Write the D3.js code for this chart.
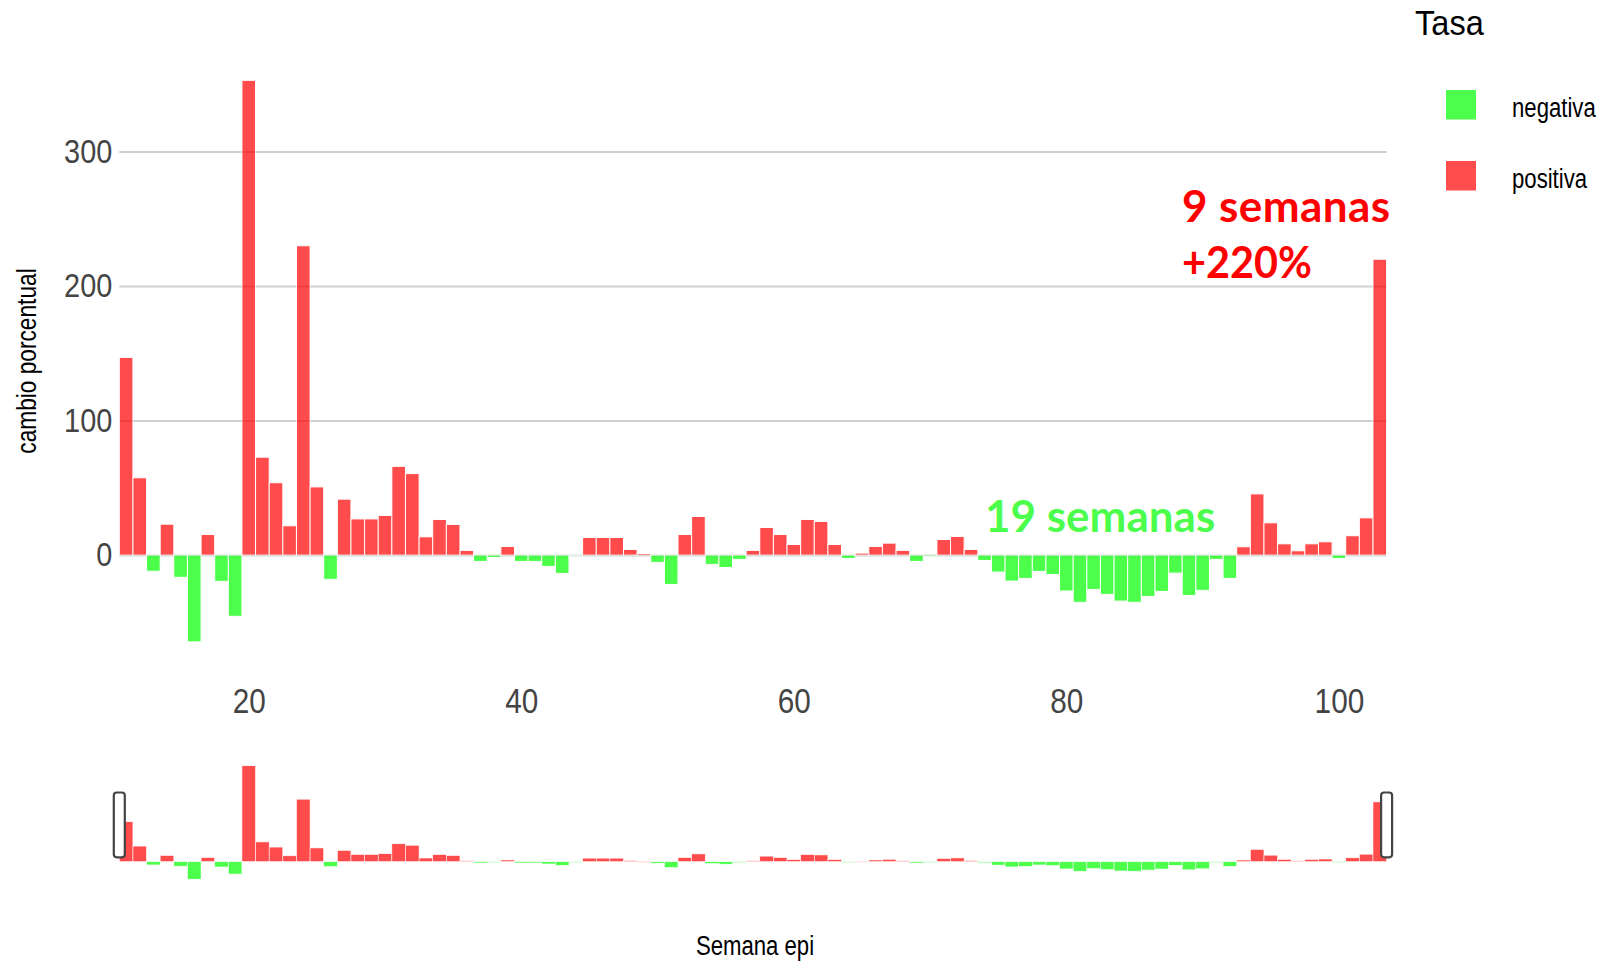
<!DOCTYPE html>
<html>
<head>
<meta charset="utf-8">
<script src="https://cdn.jsdelivr.net/npm/d3@7"></script>
<style>
  body { margin: 0; background: #fff; }
  .narrow { font-family: "Liberation Sans Narrow", "Arial Narrow", "Liberation Sans", sans-serif; }
</style>
</head>
<body>
<svg width="1606" height="963"></svg>
<script>
// weekly percentage change, first bar is epi week 11
var firstWeek = 11;
var cambio = [
  147, 57.5, -12, 23, -16.5, -64.5, 15.3, -19.5, -45.5, 353,
  72.8, 53.8, 21.8, 230, 50.7, -18, 41.6, 26.9, 26.9, 29.5,
  66, 60.6, 13.6, 26.5, 22.8, 3.5, -4.7, -1.7, 6.4, -4.7,
  -4.7, -8.4, -13.6, -0.8, 13.1, 13.1, 13.1, 4.2, 1.2, -5.4,
  -21.8, 15.3, 28.7, -6.9, -9.2, -3.2, 3.5, 20.5, 15.3, 7.9,
  26.5, 25, 7.9, -2.5, 1.5, 6.4, 8.9, 3.5, -4.7, -1,
  11.6, 13.9, 4.2, -4, -12.6, -19.3, -17.3, -12.1, -14.4, -26.7,
  -35.1, -25.5, -29.2, -34.2, -35.1, -30.7, -27, -13.4, -30, -26.2,
  -3.2, -17.3, 6.2, 45.5, 24, 8.4, 3.2, 8.4, 9.9, -2.5,
  14.4, 27.7, 220
];
var xTicks = [20, 40, 60, 80, 100];
var yTicks = [0, 100, 200, 300];
var tasaLabels = ["negativa", "positiva"];
var tasaColors = ["#00ff00", "#ff0000"];
var notes = [
  {text: "9 semanas", color: "#ff0000"},
  {text: "+220%", color: "#ff0000"},
  {text: "19 semanas", color: "#4dff4d"}
];

var data = cambio.map(function(v, i) { return {week: firstWeek + i, value: v}; });

var svg = d3.select("svg"),
  plotLeft = 119.3,
  plotRight = 1386.6;

var x = d3.scaleLinear().domain([firstWeek - 0.5, firstWeek + cambio.length - 0.5]).range([plotLeft, plotRight]);
var y = d3.scaleLinear().domain([0, 300]).range([555.1, 151.6]);
var ySlider = d3.scaleLinear().domain([0, 220]).range([861.7, 801.9]);
var step = x(1) - x(0);

function colorOf(d) { return d.value < 0 ? tasaColors[0] : tasaColors[1]; }

// no narrow font installed, so squeeze the regular one
function squeeze(sel, k) {
  k = k || 0.82;
  sel.each(function() {
    var w = this.getComputedTextLength();
    d3.select(this).attr("textLength", w * k).attr("lengthAdjust", "spacingAndGlyphs");
  });
}

// grid + y labels
var yAxis = d3.axisLeft(y).tickValues(yTicks).tickSize(-(plotRight - plotLeft)).tickPadding(7);
var gy = svg.append("g")
  .attr("class", "narrow")
  .attr("transform", "translate(" + plotLeft + ",0)")
  .call(yAxis);
gy.select(".domain").remove();
gy.selectAll("line").attr("stroke", "#cfcfcf").attr("stroke-width", 2);
gy.selectAll("text").attr("fill", "#444").style("font-size", "34px").call(squeeze, 0.85);

// x labels
var xAxis = d3.axisBottom(x).tickValues(xTicks).tickSize(0).tickPadding(8);
var gx = svg.append("g")
  .attr("class", "narrow")
  .attr("transform", "translate(0,680)")
  .call(xAxis);
gx.select(".domain").remove();
gx.selectAll("text").attr("fill", "#444").style("font-size", "35px").call(squeeze, 0.85);

// main bars
svg.append("g").selectAll("rect")
  .data(data.filter(function(d) { return d.value !== 0; }))
  .enter()
  .append("rect")
  .attr("x", function(d) { return x(d.week - 0.5); })
  .attr("width", step)
  .attr("y", function(d) { return Math.min(y(d.value), y(0)); })
  .attr("height", function(d) { return Math.abs(y(d.value) - y(0)); })
  .attr("fill", colorOf)
  .attr("stroke", "#fff")
  .attr("stroke-width", 1)
  .attr("opacity", 0.7);

// range slider
svg.append("g").selectAll("rect")
  .data(data.filter(function(d) { return d.value !== 0; }))
  .enter()
  .append("rect")
  .attr("x", function(d) { return x(d.week - 0.5); })
  .attr("width", step)
  .attr("y", function(d) { return Math.min(ySlider(d.value), ySlider(0)); })
  .attr("height", function(d) { return Math.max(0.8, Math.abs(ySlider(d.value) - ySlider(0))); })
  .attr("fill", colorOf)
  .attr("stroke", "#fff")
  .attr("stroke-width", 0.6)
  .attr("opacity", 0.7);

svg.append("g").selectAll("rect")
  .data(x.range())
  .enter()
  .append("rect")
  .attr("x", function(d) { return d - 5.5; })
  .attr("y", 792.5)
  .attr("width", 11)
  .attr("height", 64.8)
  .attr("rx", 3)
  .attr("fill", "#fff")
  .attr("stroke", "#444")
  .attr("stroke-width", 2.2);

// annotations
var noteG = svg.append("g")
  .style("font-family", "Lato, 'Open Sans', sans-serif")
  .style("font-weight", "bold")
  .style("font-size", "44px");
noteG.append("text").attr("x", 1182).attr("y", 222).attr("fill", notes[0].color)
  .attr("textLength", 208).attr("lengthAdjust", "spacing").text(notes[0].text);
noteG.append("text").attr("x", 1182).attr("y", 278).attr("fill", notes[1].color)
  .attr("textLength", 130).attr("lengthAdjust", "spacingAndGlyphs").text(notes[1].text);
noteG.append("text").attr("x", 985).attr("y", 532).attr("fill", notes[2].color).text(notes[2].text);

// axis titles
svg.append("text")
  .attr("class", "narrow")
  .attr("transform", "translate(27,361) rotate(-90)")
  .attr("dy", "0.35em")
  .style("text-anchor", "middle")
  .style("font-size", "27px")
  .text("cambio porcentual")
  .call(squeeze, 0.84);

svg.append("text")
  .attr("class", "narrow")
  .attr("x", 755)
  .attr("y", 955)
  .style("text-anchor", "middle")
  .style("font-size", "27px")
  .text("Semana epi")
  .call(squeeze);

// legend
var legend = svg.append("g").attr("class", "narrow");
legend.append("text")
  .attr("x", 1415)
  .attr("y", 35)
  .style("font-size", "35px")
  .text("Tasa")
  .call(squeeze, 0.93);

var item = legend.selectAll("g.item")
  .data(tasaLabels)
  .enter()
  .append("g")
  .attr("class", "item")
  .attr("transform", function(d, i) { return "translate(0," + (i * 71) + ")"; });

item.append("rect")
  .attr("x", 1446)
  .attr("y", 90)
  .attr("width", 30)
  .attr("height", 29.5)
  .attr("fill", function(d, i) { return tasaColors[i]; })
  .attr("opacity", 0.7);

item.append("text")
  .attr("x", 1512)
  .attr("y", 116.5)
  .style("font-size", "27px")
  .text(function(d) { return d; })
  .call(squeeze);
</script>
</body>
</html>
